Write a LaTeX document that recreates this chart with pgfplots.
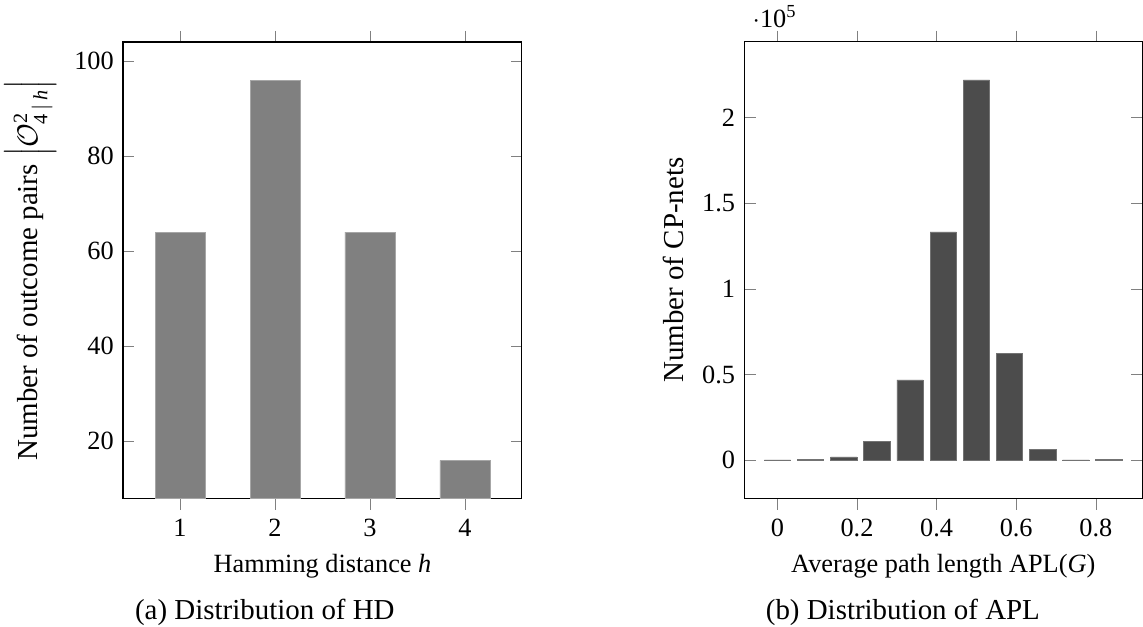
\documentclass[border=0pt]{standalone}
\usepackage{amsmath}
\usepackage{pgfplots}
\pgfplotsset{compat=1.18}
\usepackage{fontspec}
\setmainfont{Liberation Serif}
\pgfplotstableread{
x y
1 64
2 96
3 64
4 16
}\hdtable
\pgfplotstableread{
x y
0.0000 200
0.0833 300
0.1667 1900
0.2500 11200
0.3333 46900
0.4167 133300
0.5000 222000
0.5833 62300
0.6667 6100
0.7500 200
0.8333 600
}\apltable
\begin{document}
\begin{tikzpicture}[x=1pt,y=1pt]
\useasboundingbox (0,0) rectangle (434.6,238.4);
\pgfplotsset{
  every axis/.append style={
    scale only axis, height=173.5pt,
    ybar,
    xtick align=outside, ytick align=inside,
    /pgf/number format/assume math mode=true,
    tick label style={font=\fontsize{10}{12}\selectfont},
    label style={font=\fontsize{10}{12}\selectfont},
  }
}
\begin{axis}[
  at={(46.77pt,48.94pt)}, anchor=south west,
  width=151.7pt,
  xmin=0.4, xmax=4.6, ymin=8, ymax=104,
  bar width=19pt,
  xtick={1,2,3,4}, ytick={20,40,60,80,100},
  xlabel={Hamming distance \textit{h}},
  ylabel={\fontsize{11}{13}\selectfont Number of outcome pairs $\left|\mathcal{O}^{\text{2}}_{\text{4}\,|\,\text{\itshape h}}\right|$},
]
\addplot[fill=black!50, draw=black!35, line width=0.3pt] table[x=x,y=y] {\hdtable};
\end{axis}
\begin{axis}[
  at={(283pt,48.94pt)}, anchor=south west,
  width=151.3pt,
  xmin=-0.0833, xmax=0.9167, ymin=-22200, ymax=244200,
  bar width=10pt,
  xtick={0,0.2,0.4,0.6,0.8}, ytick={0,50000,100000,150000,200000},
  ytick scale label code/.code={$\cdot$10\textsuperscript{#1}},
  xlabel={Average path length APL(\textit{G})},
  ylabel={\fontsize{11}{13}\selectfont Number of CP-nets},
]
\addplot[fill=black!70, draw=black!55, line width=0.3pt] table[x=x,y=y] {\apltable};
\end{axis}
\node[anchor=base, font=\fontsize{11}{13}\selectfont] at (100.7,3) {(a) Distribution of HD};
\node[anchor=base, font=\fontsize{11}{13}\selectfont] at (343.3,3) {(b) Distribution of APL};
\end{tikzpicture}
\end{document}
